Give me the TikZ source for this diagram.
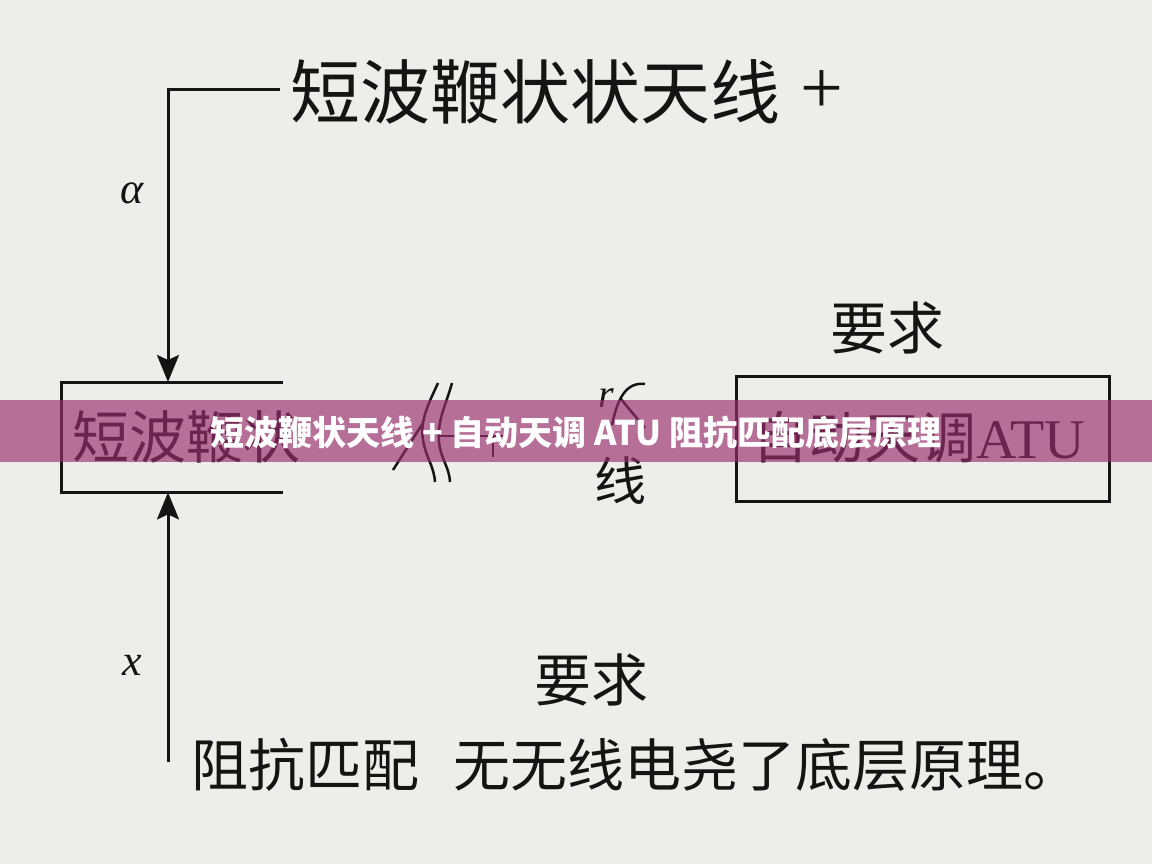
\documentclass[tikz,border=0pt]{standalone}
\usepackage{fontspec}
\setmainfont{Liberation Serif}
\newfontfamily\cjk{Noto Sans CJK SC}
\usetikzlibrary{arrows.meta}
\definecolor{paper}{RGB}{237,237,235}
\definecolor{ink}{RGB}{20,20,20}
\definecolor{bannerc}{RGB}{154,45,109}
\tikzset{
  ln/.style={draw=ink, line width=3pt},
  thin ln/.style={draw=ink, line width=2.5pt},
  arr/.style={ln, -{Stealth[length=27pt,width=22pt,inset=5pt]}},
  txt/.style={inner sep=0pt, text=ink},
}
\newcommand\fs[1]{\fontsize{#1}{#1}\selectfont}
\begin{document}
\begin{tikzpicture}[x=1pt,y=-1pt]
\fill[paper] (0,0) rectangle (1152,864);
\useasboundingbox (0,0) rectangle (1152,864);

% top heading and feed line
\node[txt, anchor=west, font=\cjk\fs{70}] (top) at (290,92) {短波鞭状状天线};
\node[txt, font=\fs{76}] (plus) at (822,92) {+};
\coordinate (tr) at (280,90);
\coordinate (tl) at (168,90);

% left open box
\node[minimum width=222pt, minimum height=110pt, inner sep=0pt, anchor=north west] (lbox) at (61,382) {};
\draw[ln] (lbox.north east) -- (lbox.north west) -- (lbox.south west) -- (lbox.south east);
\node[txt, anchor=west, font=\cjk\fs{57}] (ltext) at (72,437) {短波鞭状};

\draw[arr] (tr) -- (tl) -- (tl |- lbox.north);
\coordinate (bl) at (168,762);
\draw[arr] (bl) -- (bl |- lbox.south);

\node[txt, font=\itshape\fs{44}] (alpha) at (132,193) {α};
\node[txt, font=\itshape\fs{44}] (xl) at (132,665) {x};

% middle marks
\draw[thin ln] (438,383) .. controls (428,405) and (420,420) .. (423,440) .. controls (426,458) and (434,466) .. (435,482);
\draw[thin ln] (452,383) .. controls (446,405) and (437,420) .. (439,442) .. controls (441,460) and (449,466) .. (450,482);
\draw[thin ln] (423,423) -- (393,470);
\draw[thin ln, line width=2pt] (440,436) -- (505,436);
\draw[thin ln, line width=2pt] (493,426) -- (493,457);

\node[txt, font=\itshape\fs{40}] (rr) at (606,398) {r};
\draw[thin ln] (645,384) .. controls (628,382) and (618,395) .. (612,425);
\draw[thin ln] (620,398) -- (645,428);
\node[txt, font=\cjk\fs{52}] (xian) at (620,481) {线};

% right box
\node[draw=ink, line width=3pt, minimum width=373pt, minimum height=125pt, inner sep=0pt, anchor=north west] (rbox) at (735,375) {};
\node[txt, anchor=west, font=\fs{56}] (rtext) at (752,437) {{\cjk 自动天调}ATU};
\node[txt, font=\cjk\fs{57}] (req1) at (887,328) {要求};

% bottom texts
\node[txt, font=\cjk\fs{57}] (req2) at (591,680) {要求};
\node[txt, anchor=west, font=\cjk\fs{57}] (b1) at (191,765) {阻抗匹配};
\node[txt, anchor=west, font=\cjk\fs{57}] (b2) at (453,765) {无无线电尧了底层原理。};

% banner
\fill[bannerc, fill opacity=0.65] (0,400) rectangle (1152,462);
\node[font=\cjk\bfseries\fs{34}, text=white, inner sep=0pt] (title) at (576,433) {短波鞭状天线 + 自动天调 ATU 阻抗匹配底层原理};
\end{tikzpicture}
\end{document}
